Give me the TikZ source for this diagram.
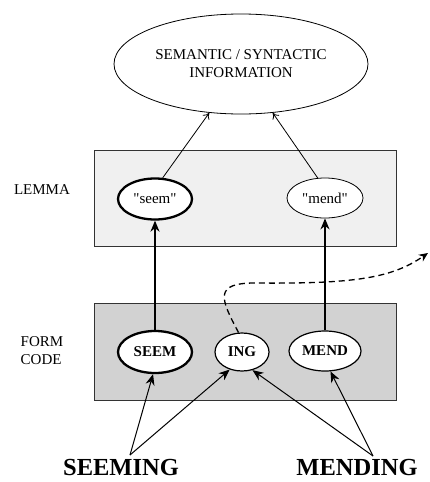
\documentclass[tikz,border=0pt]{standalone}
\usepackage{fontspec}
\setmainfont{Liberation Serif}
\usetikzlibrary{arrows.meta, shapes.geometric}
\tikzset{%
    unit/.style={ellipse, draw, fill=white, inner sep=1pt, font=\fontsize{15}{18}\selectfont},
    thin unit/.style={unit, line width=0.8pt},
    mid unit/.style={unit, line width=1.2pt},
    thick unit/.style={unit, line width=2.3pt},
    level/.style={draw=black!80, line width=1pt},
    tag/.style={font=\fontsize{15}{18}\selectfont, align=left},
    word/.style={font=\fontsize{24.5}{29}\selectfont\bfseries},
    feed/.style={line width=0.8pt, -{To[length=6pt,width=8pt]}},
    access/.style={line width=2.4pt, -{Stealth[length=11pt,width=9pt]}},
    parse/.style={line width=1pt, -{Stealth[length=11pt,width=9pt]}},
    %leak/.style={dashed}
}

\begin{document}
\begin{tikzpicture}[x=1pt, y=-1pt, line width=0.8pt]
	\useasboundingbox (0,0) rectangle (430,482);

	% levels
	\filldraw[level, fill=gray!12] (94,150) rectangle (396,246);
	\filldraw[level, fill=gray!35] (94,303) rectangle (396,400);
	\node[tag] (lemmatag) at (42,190) {LEMMA};
	\node[tag] (formtag) at (42,351) {FORM\\CODE};

	% top
	\node[thin unit, minimum width=254, minimum height=100, align=center] (info) at (241,64) {SEMANTIC / SYNTACTIC\\INFORMATION};

	% lemma level
	\node[thick unit, minimum width=74, minimum height=41] (lemseem) at (155,199) {\textquotedbl seem\textquotedbl};
	\node[thin unit, minimum width=76, minimum height=40] (lemmend) at (325,198) {\textquotedbl mend\textquotedbl};

	% form level
	\node[thick unit, minimum width=74, minimum height=42, font=\fontsize{15}{18}\selectfont\bfseries] (formseem) at (155,352) {SEEM};
	\node[mid unit, minimum width=54, minimum height=38, font=\fontsize{15}{18}\selectfont\bfseries] (forming) at (242,352) {ING};
	\node[mid unit, minimum width=72, minimum height=40, font=\fontsize{15}{18}\selectfont\bfseries] (formmend) at (325,351) {MEND};

	% words
	\node[word] (seeming) at (121,468) {SEEMING};
	\node[word] (mending) at (357,468) {MENDING};
	\coordinate (seemfork) at (130,455);
	\coordinate (mendfork) at (373,456);
	\coordinate (away) at (428,253);

	% links
	\draw[feed] (lemseem.70) -- (info.237);
	\draw[feed] (lemmend.110) -- (info.303);
	\draw[access] (formseem.north) -- (lemseem.south);
	\draw[access] (formmend.north) -- (lemmend.south);
	\draw[parse] (seemfork) -- (formseem.265);
	\draw[parse] (seemfork) -- (forming.235);
	\draw[parse] (mendfork) -- (forming.300);
	\draw[parse] (mendfork) -- (formmend.285);
	\draw[line width=1.3pt, dash pattern=on 6pt off 4pt, -{Stealth[length=9pt,width=8pt]}]
		(forming.100) .. controls (220,298) and (214,283) .. (255,283)
		.. controls (355,284) and (392,278) .. (away);

\end{tikzpicture}
\end{document}
